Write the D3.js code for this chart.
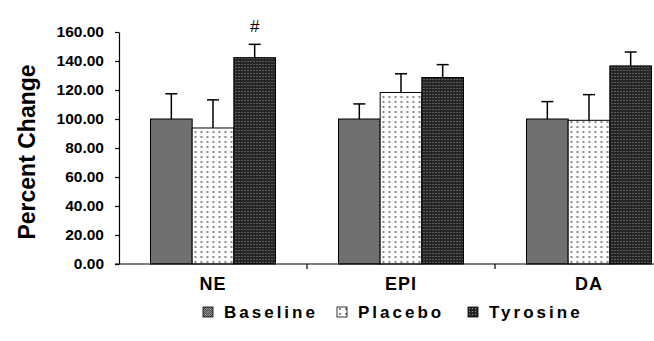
<!DOCTYPE html>
<html>
<head>
<meta charset="utf-8">
<script src="https://cdn.jsdelivr.net/npm/d3@7"></script>
<style>
  body { margin: 0; background: #fff; }
  text { font-family: "Liberation Sans", Arial, sans-serif; font-weight: bold; }
</style>
</head>
<body>
<div id="chart"></div>
<script>
// data
var categories = ["NE", "EPI", "DA"];
var series = ["Baseline", "Placebo", "Tyrosine"];
var baseline = [100, 100, 100];
var placebo = [93.8, 118.3, 99.1];
var tyrosine = [142.3, 128.6, 136.6];
var baselineErr = [17.4, 10.4, 12.0];
var placeboErr = [19.4, 12.9, 17.7];
var tyrosineErr = [9.2, 8.9, 9.6];
var yTicks = [0, 20, 40, 60, 80, 100, 120, 140, 160];

var values = [baseline, placebo, tyrosine];
var errs = [baselineErr, placeboErr, tyrosineErr];

var width = 654, height = 341;
var marginLeft = 119, axisBottom = 264, axisTop = 32;

var svg = d3.select("#chart").append("svg")
  .attr("width", width)
  .attr("height", height);

// fill patterns
var defs = svg.append("defs");

var p1 = defs.append("pattern").attr("id", "pBase")
  .attr("width", 2).attr("height", 2).attr("patternUnits", "userSpaceOnUse");
p1.append("rect").attr("width", 2).attr("height", 2).attr("fill", "#8a8a8a");
p1.append("rect").attr("width", 1).attr("height", 1).attr("fill", "#555");
p1.append("rect").attr("x", 1).attr("y", 1).attr("width", 1).attr("height", 1).attr("fill", "#555");

var p2 = defs.append("pattern").attr("id", "pPlac")
  .attr("width", 6).attr("height", 5).attr("patternUnits", "userSpaceOnUse");
p2.append("rect").attr("width", 6).attr("height", 5).attr("fill", "#fff");
p2.append("rect").attr("x", 2).attr("y", 1).attr("width", 2).attr("height", 2).attr("fill", "#8a8a8a");

var p3 = defs.append("pattern").attr("id", "pTyr")
  .attr("width", 3).attr("height", 3).attr("patternUnits", "userSpaceOnUse");
p3.append("rect").attr("width", 3).attr("height", 3).attr("fill", "#262626");
p3.append("rect").attr("x", 1).attr("y", 1).attr("width", 1).attr("height", 1).attr("fill", "#8c8c8c");

var fills = ["url(#pBase)", "url(#pPlac)", "url(#pTyr)"];

var x0 = d3.scaleBand()
  .domain(categories)
  .range([marginLeft, marginLeft + 3 * 188])
  .paddingInner(0.335)
  .paddingOuter(0.1675);

var x1 = d3.scaleBand()
  .domain(series)
  .range([0, x0.bandwidth()]);

var y = d3.scaleLinear()
  .domain([0, 160])
  .range([axisBottom, axisTop]);

// y axis
var yAxis = svg.append("g")
  .attr("transform", "translate(" + marginLeft + ",0)")
  .call(d3.axisLeft(y).tickValues(yTicks).tickSize(4).tickSizeOuter(0)
    .tickFormat(d3.format(".2f")));
yAxis.select(".domain").attr("stroke", "#000").attr("stroke-width", 1.2);
yAxis.selectAll(".tick line").attr("stroke", "#000").attr("stroke-width", 1.2);
yAxis.selectAll(".tick text")
  .attr("font-size", 15.5).attr("x", -15).attr("fill", "#000")
  .style("font-family", "'Liberation Sans', Arial, sans-serif").style("font-weight", "bold");

// bars
var groups = svg.append("g").selectAll("g")
  .data(categories)
  .enter().append("g")
  .attr("transform", function(d) { return "translate(" + x0(d) + ",0)"; });

series.forEach(function(s, si) {
  groups.append("rect")
    .attr("x", x1(s))
    .attr("y", function(d, i) { return y(values[si][i]); })
    .attr("width", x1.bandwidth())
    .attr("height", function(d, i) { return axisBottom - y(values[si][i]); })
    .attr("fill", fills[si])
    .attr("stroke", "#000")
    .attr("stroke-width", 1);

  // error bars
  groups.append("line")
    .attr("x1", x1(s) + x1.bandwidth() / 2)
    .attr("x2", x1(s) + x1.bandwidth() / 2)
    .attr("y1", function(d, i) { return y(values[si][i]); })
    .attr("y2", function(d, i) { return y(values[si][i] + errs[si][i]); })
    .attr("stroke", "#000").attr("stroke-width", 1.5);
  groups.append("line")
    .attr("x1", x1(s) + x1.bandwidth() / 2 - 6)
    .attr("x2", x1(s) + x1.bandwidth() / 2 + 6)
    .attr("y1", function(d, i) { return y(values[si][i] + errs[si][i]); })
    .attr("y2", function(d, i) { return y(values[si][i] + errs[si][i]); })
    .attr("stroke", "#000").attr("stroke-width", 1.5);
});

// x axis
var xAxis = svg.append("g")
  .attr("transform", "translate(0," + axisBottom + ")");
xAxis.append("line")
  .attr("x1", marginLeft - 4).attr("x2", width)
  .attr("stroke", "#000").attr("stroke-width", 1.2);
xAxis.selectAll(".sep")
  .data(categories.slice(1))
  .enter().append("line")
  .attr("x1", function(d) { return x0(d) - x0.step() * x0.paddingInner() / 2; })
  .attr("x2", function(d) { return x0(d) - x0.step() * x0.paddingInner() / 2; })
  .attr("y1", 0).attr("y2", 5)
  .attr("stroke", "#000").attr("stroke-width", 1.2);
xAxis.selectAll(".lab")
  .data(categories)
  .enter().append("text")
  .attr("x", function(d) { return x0(d) + x0.bandwidth() / 2; })
  .attr("y", 26)
  .attr("text-anchor", "middle")
  .attr("font-size", 18)
  .attr("letter-spacing", 1)
  .text(function(d) { return d; });

// significance mark
svg.append("text")
  .attr("x", x0("NE") + x1("Tyrosine") + x1.bandwidth() / 2)
  .attr("y", y(tyrosine[0] + tyrosineErr[0]) - 12)
  .attr("text-anchor", "middle")
  .attr("font-size", 17)
  .style("font-weight", "normal")
  .text("#");

// y label
svg.append("text")
  .attr("transform", "translate(35,152) rotate(-90)")
  .attr("text-anchor", "middle")
  .attr("font-size", 23)
  .text("Percent Change");

// legend
var legX = [203, 337, 468];
var leg = svg.append("g").selectAll("g")
  .data(series)
  .enter().append("g")
  .attr("transform", function(d, i) { return "translate(" + legX[i] + ",307)"; });
leg.append("rect")
  .attr("width", 10).attr("height", 10)
  .attr("fill", function(d, i) { return fills[i]; })
  .attr("stroke", "#000").attr("stroke-width", 0.8);
leg.append("text")
  .attr("x", 21).attr("y", 11)
  .attr("font-size", 17)
  .attr("letter-spacing", 3)
  .text(function(d) { return d; });
</script>
</body>
</html>
